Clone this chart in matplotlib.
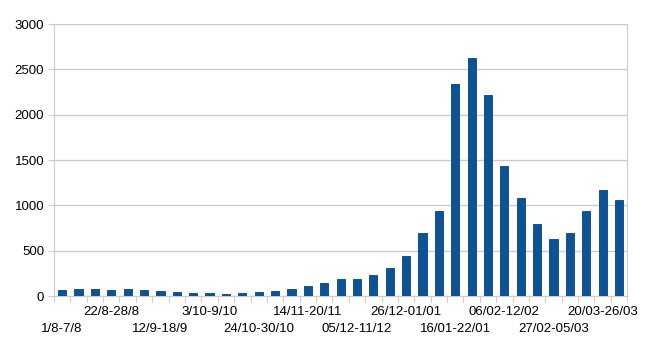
import numpy as np
import matplotlib
matplotlib.use('agg')
import matplotlib.pyplot as plt

weeks = ['1/8-7/8', '8/8-14/8', '15/8-21/8', '22/8-28/8', '29/8-4/9', '5/9-11/9',
         '12/9-18/9', '19/9-25/9', '26/9-2/10', '3/10-9/10', '10/10-16/10', '17/10-23/10',
         '24/10-30/10', '31/10-6/11', '7/11-13/11', '14/11-20/11', '21/11-27/11', '28/11-04/12',
         '05/12-11/12', '12/12-18/12', '19/12-25/12', '26/12-01/01', '02/01-08/01', '09/01-15/01',
         '16/01-22/01', '23/01-29/01', '30/01-05/02', '06/02-12/02', '13/02-19/02', '20/02-26/02',
         '27/02-05/03', '06/03-12/03', '13/03-19/03', '20/03-26/03', '27/03-02/04']
cases = [63, 77, 74, 70, 81, 70, 55, 44, 33, 30, 26, 30, 44, 52, 77, 110, 147, 184,
         188, 236, 313, 441, 699, 937, 2342, 2628, 2220, 1438, 1077, 790, 629, 699, 934, 1169, 1059]

plt.rcParams['font.family'] = ['Liberation Sans', 'DejaVu Sans']
grey = '#cccccc'

fig = plt.figure(figsize=(6.5, 3.48), dpi=100)
ax = fig.add_axes([0.083, 0.149, 0.882, 0.782])

x = np.arange(len(cases))
ax.bar(x, cases, width=0.5, color='#0b5394', edgecolor='#004586', linewidth=0.6, zorder=3)

ax.set_xlim(-0.5, len(cases) - 0.5)
ax.set_ylim(0, 3000)
ax.set_yticks(range(0, 3001, 500))
ax.yaxis.grid(True, color=grey, linewidth=1, zorder=0)
ax.tick_params(axis='y', length=4, color=grey, labelsize=9.5, pad=3)

# ticks between categories, labels every third week, staggered in two rows
ax.set_xticks(np.arange(len(cases) + 1) - 0.5)
ax.set_xticklabels([])
ax.tick_params(axis='x', length=4, color=grey)
for k, i in enumerate(range(0, len(weeks), 3)):
    yoff = -0.097 if k % 2 == 0 else -0.037
    ax.text(i, yoff, weeks[i], transform=ax.get_xaxis_transform(),
            ha='center', va='top', fontsize=9.5)

for s in ['left', 'right', 'bottom', 'top']:
    ax.spines[s].set_color(grey)
ax.spines['top'].set_visible(False)

fig.savefig('out.png', dpi=100)
